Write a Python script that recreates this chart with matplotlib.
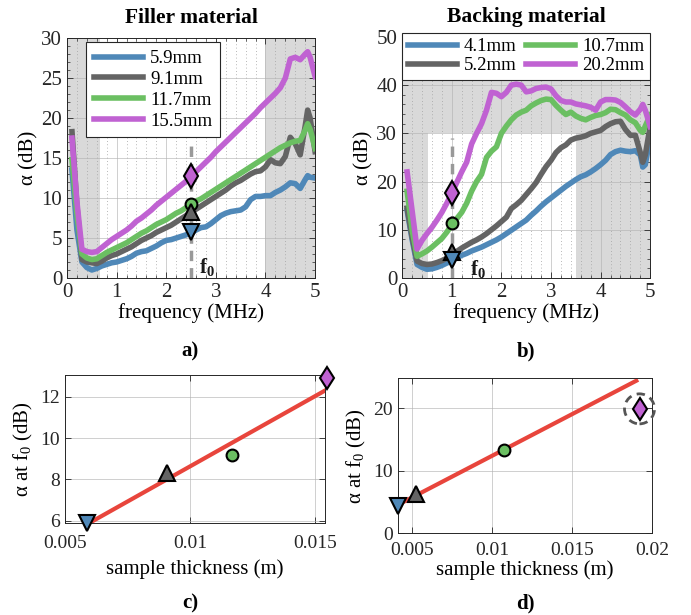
import matplotlib
matplotlib.use('Agg')
import matplotlib.pyplot as plt
import numpy as np
from matplotlib.patches import Circle
import matplotlib.transforms as mtransforms
from matplotlib.ticker import MultipleLocator

plt.rcParams['font.family'] = ['Liberation Serif', 'DejaVu Serif']
plt.rcParams['mathtext.fontset'] = 'custom'
plt.rcParams['mathtext.rm'] = 'Liberation Serif'
plt.rcParams['mathtext.it'] = 'Liberation Serif:italic'
plt.rcParams['mathtext.bf'] = 'Liberation Serif:bold'

# ---------------- data ----------------
freq = [0.1, 0.2, 0.3, 0.4, 0.5, 0.6, 0.7, 0.8, 0.9, 1.0,
        1.1, 1.2, 1.3, 1.4, 1.5, 1.6, 1.7, 1.8, 1.9, 2.0,
        2.1, 2.2, 2.3, 2.4, 2.5, 2.6, 2.7, 2.8, 2.9, 3.0,
        3.1, 3.2, 3.3, 3.4, 3.5, 3.6, 3.7, 3.8, 3.9, 4.0,
        4.1, 4.2, 4.3, 4.4, 4.5, 4.6, 4.7, 4.8, 4.85, 4.9, 5.0]

# Filler material
filler_labels = ['5.9mm', '9.1mm', '11.7mm', '15.5mm']
filler_59 = [13.5, 6.0, 2.0, 1.3, 1.0, 1.2, 1.5, 1.7, 1.9, 2.0,
             2.2, 2.4, 2.7, 3.1, 3.3, 3.4, 3.7, 4.0, 4.4, 4.7,
             4.8, 5.0, 5.2, 5.4, 5.6, 6.0, 6.3, 6.4, 6.8, 7.3,
             7.8, 8.1, 8.3, 8.4, 8.5, 8.9, 9.8, 10.2, 10.2, 10.3,
             10.3, 10.7, 11.0, 11.4, 11.9, 11.8, 11.2, 12.3, 12.8, 12.6, 12.5]
filler_91 = [18.3, 9.0, 2.3, 2.0, 1.9, 1.8, 2.1, 2.5, 2.8, 3.0,
             3.3, 3.6, 3.9, 4.3, 4.7, 5.0, 5.3, 5.7, 6.0, 6.3,
             6.6, 7.0, 7.4, 7.8, 8.2, 8.6, 9.0, 9.4, 9.8, 10.2,
             10.6, 11.0, 11.5, 11.9, 12.2, 12.6, 13.0, 13.3, 13.4, 13.9,
             14.8, 14.4, 14.3, 15.2, 17.6, 16.8, 15.4, 19.0, 21.0, 20.0, 15.8]
filler_117 = [14.8, 8.0, 3.0, 2.5, 2.3, 2.4, 2.8, 3.2, 3.5, 3.8,
              4.1, 4.4, 4.8, 5.2, 5.6, 5.9, 6.3, 6.7, 7.0, 7.3,
              7.7, 8.1, 8.4, 8.8, 9.2, 9.6, 9.9, 10.3, 10.7, 11.1,
              11.5, 11.9, 12.3, 12.7, 13.1, 13.5, 13.9, 14.3, 14.7, 15.1,
              15.5, 15.9, 16.3, 16.6, 16.9, 17.1, 17.2, 18.5, 19.3, 18.6, 16.2]
filler_155 = [17.5, 9.5, 3.6, 3.3, 3.2, 3.3, 3.8, 4.3, 4.8, 5.2,
              5.6, 6.0, 6.5, 7.1, 7.5, 8.0, 8.5, 9.1, 9.6, 10.1,
              10.6, 11.1, 11.6, 12.1, 12.7, 13.3, 13.9, 14.5, 15.1, 15.8,
              16.4, 17.0, 17.6, 18.2, 18.8, 19.4, 20.0, 20.6, 21.3, 21.9,
              22.5, 23.1, 23.8, 25.0, 27.4, 27.6, 27.3, 28.0, 28.3, 27.6, 25.2]
filler_f0 = 2.5
filler_at_f0 = [5.8, 8.3, 9.3, 12.8]
filler_f0_line_top = 17.3
filler_shade = [(0.0, 0.67), (4.0, 5.0)]

# Backing material
backing_labels = ['4.1mm', '5.2mm', '10.7mm', '20.2mm']
backing_41 = [14.0, 8.0, 2.8, 2.2, 1.8, 1.9, 2.2, 2.6, 3.1, 3.6,
              4.2, 4.7, 5.1, 5.6, 6.0, 6.4, 6.9, 7.4, 7.9, 8.5,
              9.2, 9.9, 10.6, 11.3, 12.0, 13.0, 13.9, 14.9, 15.8, 16.6,
              17.4, 18.2, 19.0, 19.7, 20.4, 21.0, 21.4, 22.0, 22.7, 23.5,
              24.4, 25.6, 26.2, 26.5, 26.3, 26.2, 26.4, 25.5, 23.0, 23.5, 29.3]
backing_52 = [14.5, 8.5, 3.5, 3.0, 2.8, 2.9, 3.2, 3.6, 4.1, 4.8,
              5.5, 6.2, 6.8, 7.4, 7.9, 8.5, 9.2, 10.0, 10.8, 11.7,
              12.6, 14.4, 15.2, 16.1, 17.3, 18.5, 19.8, 21.5, 23.1, 24.4,
              26.0, 27.0, 27.6, 28.6, 29.0, 29.2, 29.5, 30.0, 30.3, 30.6,
              31.4, 32.0, 32.4, 32.5, 30.8, 29.6, 29.6, 26.0, 24.0, 25.5, 31.5]
backing_107 = [18.0, 10.0, 4.5, 5.0, 5.6, 6.4, 7.3, 8.2, 9.5, 11.0,
               12.3, 13.6, 15.5, 18.0, 20.0, 21.5, 25.0, 26.3, 27.2, 30.0,
               31.5, 32.8, 33.8, 34.4, 34.8, 35.7, 36.3, 36.8, 37.1, 37.0,
               35.8, 34.8, 33.9, 34.4, 33.6, 33.1, 32.8, 33.3, 33.7, 33.9,
               34.3, 35.0, 34.9, 34.3, 33.8, 32.8, 32.2, 30.6, 30.2, 31.5, 33.8]
backing_202 = [22.0, 14.0, 6.0, 7.8, 9.2, 10.5, 12.0, 13.6, 15.5, 17.6,
               19.8, 22.0, 24.0, 27.8, 30.0, 32.0, 34.8, 38.5, 38.3, 37.6,
               38.5, 40.0, 40.2, 40.0, 38.6, 38.8, 39.3, 39.5, 39.6, 39.2,
               37.8, 36.8, 36.5, 36.5, 36.1, 35.9, 35.7, 35.4, 34.8, 36.5,
               37.0, 37.0, 36.9, 36.4, 35.5, 34.5, 33.8, 35.0, 36.0, 34.8, 31.4]
backing_f0 = 1.0
backing_at_f0 = [3.8, 5.4, 11.5, 17.6]
backing_f0_line_top = 29.0
backing_white = (0.52, 3.5, 30.0)   # x-from, x-to, y-top of the unshaded window

# Thickness fits
thick_filler = [0.0059, 0.0091, 0.0117, 0.0155]
alpha_filler = [5.9, 8.3, 9.2, 12.9]
fit_filler_x = [0.0059, 0.0155]
fit_filler_y = [5.85, 12.35]

thick_backing = [0.0041, 0.0052, 0.0107, 0.0192]
alpha_backing = [4.4, 6.2, 13.3, 19.9]
fit_backing_x = [0.0041, 0.0190]
fit_backing_y = [4.55, 24.4]

# ---------------- styles ----------------
colors = ['#4f88b8', '#646464', '#6bbf62', '#c062d2']
markers = ['v', '^', 'o', 'd']
msizes_top = [11, 11, 8.5, 12]
msizes_bot = [11, 11, 8.5, 11.5]
shade_col = '#d9d9d9'
red = '#e8453c'
tick_col = '#262626'

fig = plt.figure(figsize=(6.91, 6.15), dpi=100)
axA = fig.add_axes([0.097, 0.548, 0.359, 0.390])
axB = fig.add_axes([0.582, 0.548, 0.359, 0.392])
axC = fig.add_axes([0.094, 0.1496, 0.376, 0.241])
axD = fig.add_axes([0.576, 0.133, 0.368, 0.252])


def style_axes(ax, minor_x=None, minor_y=None, fs=15):
    ax.set_axisbelow(True)
    ax.tick_params(which='both', direction='in', top=True, right=True,
                   labelsize=fs, colors=tick_col, labelcolor=tick_col)
    ax.tick_params(which='major', length=4, width=0.6)
    ax.tick_params(which='minor', length=2.5, width=0.5)
    if minor_x:
        ax.xaxis.set_minor_locator(MultipleLocator(minor_x))
    if minor_y:
        ax.yaxis.set_minor_locator(MultipleLocator(minor_y))
    ax.grid(True, which='major', color='#b0b0b0', lw=0.7, alpha=0.6)
    for s in ax.spines.values():
        s.set_color('#262626')
        s.set_linewidth(0.7)


# ---------- panel a ----------
ax = axA
style_axes(ax, 0.2, 1)
ax.xaxis.grid(True, which='minor', color='#a0a0a0', lw=0.6, ls=(0, (1, 3)))
for x0, x1 in filler_shade:
    ax.axvspan(x0, x1, color=shade_col, lw=0, zorder=0.1)
ax.plot([filler_f0, filler_f0], [0, filler_f0_line_top], color='#999999',
        lw=2.5, ls=(0, (3, 2)), zorder=1)
for vals, c, lab in zip([filler_59, filler_91, filler_117, filler_155], colors, filler_labels):
    ax.plot(freq, vals, color=c, lw=4, label=lab, zorder=2)
for v, c, m, ms in zip(filler_at_f0[::-1], colors[::-1], markers[::-1], msizes_top[::-1]):
    ax.plot([filler_f0], [v], marker=m, ms=ms, mfc=c, mec='k', mew=1.5,
            ls='none', zorder=5, clip_on=False)
ax.text(filler_f0 + 0.17, 0.6, r'$\mathbf{f_0}$', fontsize=15, color='#1a1a1a', zorder=6)
ax.set_xlim(0, 5)
ax.set_ylim(0, 30)
ax.set_xticks([0, 1, 2, 3, 4, 5])
ax.set_yticks([0, 5, 10, 15, 20, 25, 30])
ax.set_xlabel('frequency (MHz)', fontsize=15, labelpad=1)
ax.set_ylabel('α (dB)', fontsize=15, labelpad=2)
ax.set_title('Filler material', fontweight='bold', fontsize=15.5, pad=11)
leg = ax.legend(loc='upper left', bbox_to_anchor=(0.078, 0.982), borderaxespad=0,
                fontsize=13.5, handlelength=2.6, handletextpad=0.4, labelspacing=0.2,
                borderpad=0.4, fancybox=False, edgecolor='#262626', framealpha=1)
leg.get_frame().set_linewidth(0.8)

# ---------- panel b ----------
ax = axB
style_axes(ax, 0.2, 2)
ax.xaxis.grid(True, which='minor', color='#a0a0a0', lw=0.6, ls=(0, (1, 3)))
wx0, wx1, wy = backing_white
ax.axhspan(wy, 50, color=shade_col, lw=0, zorder=0.1)
ax.fill_between([0, wx0], 0, wy, color=shade_col, lw=0, zorder=0.1)
ax.fill_between([wx1, 5], 0, wy, color=shade_col, lw=0, zorder=0.1)
ax.plot([backing_f0, backing_f0], [0, backing_f0_line_top], color='#999999',
        lw=2.5, ls=(0, (3, 2)), zorder=1)
for vals, c, lab in zip([backing_41, backing_52, backing_107, backing_202], colors, backing_labels):
    ax.plot(freq, vals, color=c, lw=4, label=lab, zorder=2)
for v, c, m, ms in zip(backing_at_f0[::-1], colors[::-1], markers[::-1], msizes_top[::-1]):
    ax.plot([backing_f0], [v], marker=m, ms=ms, mfc=c, mec='k', mew=1.5,
            ls='none', zorder=5, clip_on=False)
ax.text(backing_f0 + 0.36, 0.6, r'$\mathbf{f_0}$', fontsize=15, color='#1a1a1a', zorder=6)
ax.set_xlim(0, 5)
ax.set_ylim(0, 50)
ax.set_xticks([0, 1, 2, 3, 4, 5])
ax.set_yticks([0, 10, 20, 30, 40, 50])
ax.set_xlabel('frequency (MHz)', fontsize=15, labelpad=1)
ax.set_ylabel('α (dB)', fontsize=15, labelpad=2)
ax.set_title('Backing material', fontweight='bold', fontsize=15.5, pad=11)
leg = ax.legend(loc='upper left', bbox_to_anchor=(0.0, 1.018), borderaxespad=0,
                ncol=2, fontsize=13.5, handlelength=2.6, handletextpad=0.4,
                labelspacing=0.1, columnspacing=0.5, borderpad=0.3, fancybox=False,
                edgecolor='#262626', framealpha=1)
leg.get_frame().set_linewidth(0.8)

# ---------- panel c ----------
ax = axC
style_axes(ax, fs=14)
ax.tick_params(axis='x', pad=9)
ax.plot(fit_filler_x, fit_filler_y, color=red, lw=3, zorder=2)
for x, v, c, m, ms in zip(thick_filler, alpha_filler, colors, markers, msizes_bot):
    ax.plot([x], [v], marker=m, ms=ms, mfc=c, mec='k', mew=1.5,
            ls='none', zorder=5, clip_on=False)
ax.set_xlim(0.005, 0.0154)
ax.set_ylim(5.9, 13.05)
ax.set_xticks([0.005, 0.01, 0.015])
ax.set_xticklabels(['0.005', '0.01', '0.015'])
ax.set_yticks([6, 8, 10, 12])
ax.set_xlabel('sample thickness (m)', fontsize=15, labelpad=5)
ax.set_ylabel(r'α at f$_0$ (dB)', fontsize=15, labelpad=4)

# ---------- panel d ----------
ax = axD
style_axes(ax, fs=14)
ax.tick_params(axis='x', pad=6)
ax.plot(fit_backing_x, fit_backing_y, color=red, lw=3, zorder=2)
for x, v, c, m, ms in zip(thick_backing, alpha_backing, colors, markers, msizes_bot):
    ax.plot([x], [v], marker=m, ms=ms, mfc=c, mec='k', mew=1.5,
            ls='none', zorder=5, clip_on=False)
ax.set_xlim(0.0041, 0.02)
ax.set_ylim(0, 24.8)
ax.set_xticks([0.005, 0.01, 0.015, 0.02])
ax.set_xticklabels(['0.005', '0.01', '0.015', '0.02'])
ax.set_yticks([0, 10, 20])
ax.set_xlabel('sample thickness (m)', fontsize=15, labelpad=1)
ax.set_ylabel(r'α at f$_0$ (dB)', fontsize=15, labelpad=4)
# dashed circle around the outlier
trans = fig.dpi_scale_trans + mtransforms.ScaledTranslation(thick_backing[3], alpha_backing[3], ax.transData)
circ = Circle((0, 0), radius=0.15, transform=trans, fill=False, ec='#555555',
              lw=2, ls=(0, (3, 2)), zorder=6, clip_on=False)
ax.add_patch(circ)

# ---------- panel letters ----------
for txt, x, y in [('a)', 190, 351), ('b)', 526, 351), ('c)', 190, 603), ('d)', 525, 603)]:
    fig.text(x / 691, 1 - y / 615, txt, ha='center', va='center',
             fontweight='bold', fontsize=15)

fig.savefig('out.png', dpi=100)
